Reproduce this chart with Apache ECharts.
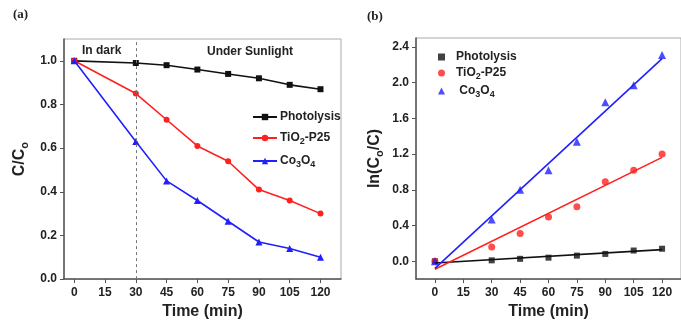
<!DOCTYPE html>
<html>
<head>
<meta charset="utf-8">
<script src="https://cdn.jsdelivr.net/npm/echarts@6/dist/echarts.min.js"></script>
<style>html,body{margin:0;padding:0;background:#fff;}#c{width:681px;height:325px;}</style>
</head>
<body>
<div id="c"></div>
<script>
// ---- data ----
const timeA = [0, 30, 45, 60, 75, 90, 105, 120];
const photolysisA = [1.0, 0.99, 0.98, 0.96, 0.94, 0.92, 0.89, 0.87];
const tio2A = [1.0, 0.85, 0.73, 0.61, 0.54, 0.41, 0.36, 0.30];
const co3o4A = [1.0, 0.63, 0.45, 0.36, 0.265, 0.17, 0.14, 0.10];

const timeB = [0, 30, 45, 60, 75, 90, 105, 120];
const photolysisB = [0, 0.01, 0.027, 0.04, 0.063, 0.082, 0.12, 0.14];
const tio2B = [0, 0.16, 0.31, 0.495, 0.61, 0.89, 1.02, 1.20];
const co3o4B = [0, 0.468, 0.80, 1.02, 1.337, 1.78, 1.97, 2.31];

// fitted lines: [x, y] endpoints
const fitPhotolysis = [[0, -0.02], [120, 0.13]];
const fitTio2 = [[0, -0.09], [120, 1.163]];
const fitCo3o4 = [[0, -0.08], [120, 2.27]];

const darkEnd = 30;
const xTicks = [0, 15, 30, 45, 60, 75, 90, 105, 120];
const yTicksA = [0, 0.2, 0.4, 0.6, 0.8, 1.0];
const yTicksB = [0, 0.4, 0.8, 1.2, 1.6, 2.0, 2.4];

const pair = (xs, ys) => xs.map((x, i) => [x, ys[i]]);

const FONT = 'Liberation Sans, Arial, sans-serif';
const TXT = '#222';
const black = '#111', red = '#ff2020', blue = '#2020ff';

const rich = {
  n: {fontFamily: FONT, fontWeight: 'bold', fontSize: 12, color: TXT},
  s: {fontFamily: FONT, fontWeight: 'bold', fontSize: 9, color: TXT, padding: [7, 0, 0, 0]}
};
function legendFmt(name) {
  const base = name.replace(' (b)', '');
  if (base === 'TiO2-P25') return '{n|TiO}{s|2}{n|-P25}';
  if (base === 'Co3O4') return (name.indexOf('(b)') >= 0 ? '{n| Co}' : '{n|Co}') + '{s|3}{n|O}{s|4}';
  return '{n|' + base + '}';
}

function xAxis(gridIndex, min, max) {
  return {
    type: 'value', gridIndex, min, max,
    name: 'Time (min)', nameLocation: 'middle', nameGap: 23,
    nameTextStyle: {fontFamily: FONT, fontWeight: 'bold', fontSize: 16, color: TXT},
    axisLine: {show: true, onZero: false, lineStyle: {color: '#555', width: 1.5}},
    axisTick: {show: true, length: 4, customValues: xTicks, lineStyle: {color: '#555'}},
    axisLabel: {customValues: xTicks, margin: 8, fontFamily: FONT, fontWeight: 'bold', fontSize: 12, color: TXT},
    splitLine: {show: false}
  };
}
function yAxis(gridIndex, min, max, ticks, nameRich, gap) {
  return {
    type: 'value', gridIndex, min, max,
    name: nameRich, nameLocation: 'middle', nameGap: gap,
    nameTextStyle: {rich: {
      n: {fontFamily: FONT, fontWeight: 'bold', fontSize: 16, color: TXT},
      s: {fontFamily: FONT, fontWeight: 'bold', fontSize: 11, color: TXT, padding: [9, 0, 0, 0]}
    }},
    axisLine: {show: true, onZero: false, lineStyle: {color: '#555', width: 1.5}},
    axisTick: {show: true, length: 4, customValues: ticks, lineStyle: {color: '#555'}},
    axisLabel: {customValues: ticks, margin: 7, fontFamily: FONT, fontWeight: 'bold', fontSize: 12, color: TXT,
      formatter: v => v.toFixed(1)},
    splitLine: {show: false}
  };
}

const chart = echarts.init(document.getElementById('c'), null, {renderer: 'canvas'});
chart.setOption({
  animation: false,
  backgroundColor: '#fff',
  grid: [
    {left: 64, top: 39, width: 277, height: 241, show: true, borderColor: '#aaa', borderWidth: 1},
    {left: 416, top: 38, width: 277, height: 242, show: true, borderColor: '#aaa', borderWidth: 1}
  ],
  xAxis: [xAxis(0, -5, 130), xAxis(1, -10, 130)],
  yAxis: [
    yAxis(0, 0, 1.1, yTicksA, '{n|C/C}{s|o}', 34),
    yAxis(1, -0.2, 2.5, yTicksB, '{n|ln(C}{s|o}{n|/C)}', 31)
  ],
  legend: [
    {data: ['Photolysis', 'TiO2-P25', 'Co3O4'], left: 247, top: 106, orient: 'vertical',
     itemWidth: 24, itemHeight: 8, itemGap: 9, formatter: legendFmt,
     textStyle: {rich, padding: [0, 0, 0, -2]}, selectedMode: false},
    {data: ['Photolysis (b)', 'TiO2-P25 (b)', 'Co3O4 (b)'], left: 433, top: 46, orient: 'vertical',
     itemWidth: 7, itemHeight: 7, itemGap: 4, formatter: legendFmt,
     textStyle: {rich, padding: [0, 0, 0, 6]}, selectedMode: false}
  ],
  graphic: [
    {type: 'text', left: 13, top: 8, style: {text: '(a)', font: 'bold 13px "Liberation Serif", serif', fill: TXT}},
    {type: 'text', left: 367, top: 10, style: {text: '(b)', font: 'bold 13px "Liberation Serif", serif', fill: TXT}},
    {type: 'text', left: 82, top: 45, style: {text: 'In dark', font: 'bold 12px ' + FONT, fill: TXT}},
    {type: 'text', left: 207, top: 46, style: {text: 'Under Sunlight', font: 'bold 12px ' + FONT, fill: TXT}}
  ],
  series: [
    {name: 'Photolysis', type: 'line', xAxisIndex: 0, yAxisIndex: 0, data: pair(timeA, photolysisA),
     symbol: 'rect', symbolSize: 6, lineStyle: {color: black, width: 1.6}, itemStyle: {color: black},
     markLine: {silent: true, symbol: 'none', label: {show: false},
       lineStyle: {color: '#777', type: [3, 3], width: 1}, data: [{xAxis: darkEnd}]}},
    {name: 'TiO2-P25', type: 'line', xAxisIndex: 0, yAxisIndex: 0, data: pair(timeA, tio2A),
     symbol: 'circle', symbolSize: 6, lineStyle: {color: red, width: 1.6}, itemStyle: {color: red}},
    {name: 'Co3O4', type: 'line', xAxisIndex: 0, yAxisIndex: 0, data: pair(timeA, co3o4A),
     symbol: 'triangle', symbolSize: 7, lineStyle: {color: blue, width: 1.6}, itemStyle: {color: blue}},

    {type: 'line', xAxisIndex: 1, yAxisIndex: 1, data: fitPhotolysis, symbol: 'none',
     lineStyle: {color: black, width: 1.6}},
    {type: 'line', xAxisIndex: 1, yAxisIndex: 1, data: fitTio2, symbol: 'none',
     lineStyle: {color: red, width: 1.6}},
    {type: 'line', xAxisIndex: 1, yAxisIndex: 1, data: fitCo3o4, symbol: 'none',
     lineStyle: {color: blue, width: 1.6}},
    {name: 'Photolysis (b)', type: 'scatter', xAxisIndex: 1, yAxisIndex: 1, data: pair(timeB, photolysisB),
     symbol: 'rect', symbolSize: 6, itemStyle: {color: black}},
    {name: 'TiO2-P25 (b)', type: 'scatter', xAxisIndex: 1, yAxisIndex: 1, data: pair(timeB, tio2B),
     symbol: 'circle', symbolSize: 7, itemStyle: {color: red}},
    {name: 'Co3O4 (b)', type: 'scatter', xAxisIndex: 1, yAxisIndex: 1, data: pair(timeB, co3o4B),
     symbol: 'triangle', symbolSize: 8, itemStyle: {color: blue}}
  ]
});
</script>
</body>
</html>
